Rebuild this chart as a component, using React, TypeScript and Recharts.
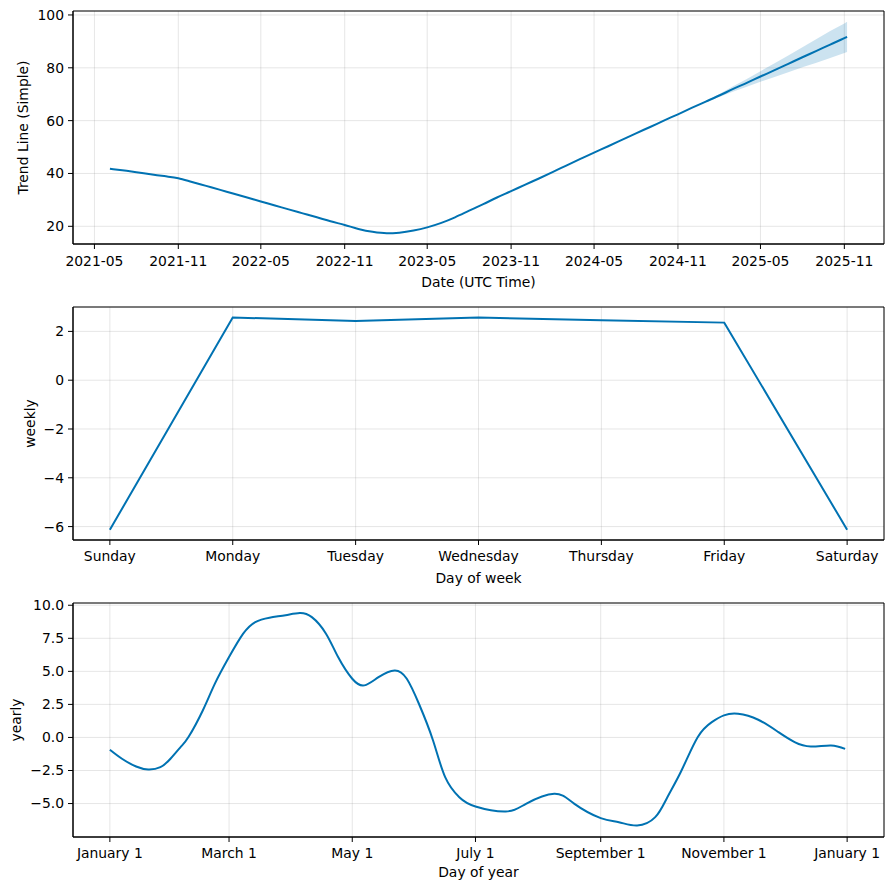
import React from "react";
import {
  ComposedChart,
  LineChart,
  Line,
  Area,
  XAxis,
  YAxis,
  CartesianGrid,
  ReferenceArea,
} from "recharts";

// trend component (monthly samples)
const trendDates = [
  "2021-06-04", "2021-07-01", "2021-08-01", "2021-09-01", "2021-10-01", "2021-11-01",
  "2021-12-01", "2022-01-01", "2022-02-01", "2022-03-01", "2022-04-01", "2022-05-01",
  "2022-06-01", "2022-07-01", "2022-08-01", "2022-09-01", "2022-10-01", "2022-11-01",
  "2022-12-01", "2023-01-01", "2023-02-01", "2023-03-01", "2023-04-01", "2023-05-01",
  "2023-06-01", "2023-07-01", "2023-08-01", "2023-09-01", "2023-10-01", "2023-11-01",
  "2023-12-01", "2024-01-01", "2024-02-01", "2024-03-01", "2024-04-01", "2024-05-01",
  "2024-06-01", "2024-07-01", "2024-08-01", "2024-09-01", "2024-10-01", "2024-11-01",
  "2024-12-01", "2025-01-01", "2025-02-01", "2025-03-01", "2025-04-01", "2025-05-01",
  "2025-06-01", "2025-07-01", "2025-08-01", "2025-09-01", "2025-10-01", "2025-11-01",
  "2025-11-07",
];
const trendValues = [
  41.8, 41.2, 40.5, 39.7, 39.0, 38.2,
  36.8, 35.3, 33.8, 32.4, 30.9, 29.4,
  27.9, 26.4, 24.9, 23.4, 21.9, 20.5,
  19.0, 17.9, 17.35, 17.6, 18.4, 19.6,
  21.3, 23.4, 25.9, 28.4, 30.9, 33.3,
  35.7, 38.1, 40.6, 43.0, 45.5, 47.9,
  50.3, 52.7, 55.2, 57.6, 60.0, 62.4,
  64.8, 67.2, 69.6, 71.9, 74.3, 76.7,
  79.1, 81.5, 84.0, 86.4, 88.8, 91.2,
  91.7,
];

// forecast uncertainty band
const bandDates = [
  "2024-12-01", "2025-01-01", "2025-02-01", "2025-03-01", "2025-04-01", "2025-05-01",
  "2025-06-01", "2025-07-01", "2025-08-01", "2025-09-01", "2025-10-01", "2025-11-01",
  "2025-11-07",
];
const bandUpper = [64.8, 67.4, 70.2, 72.9, 75.8, 78.7, 81.7, 84.7, 87.8, 90.9, 93.9, 96.8, 97.4];
const bandLower = [64.8, 67.0, 69.0, 70.9, 72.8, 74.7, 76.5, 78.3, 80.2, 81.9, 83.7, 85.6, 86.0];

const trendTicks = [
  "2021-05-01", "2021-11-01", "2022-05-01", "2022-11-01", "2023-05-01",
  "2023-11-01", "2024-05-01", "2024-11-01", "2025-05-01", "2025-11-01",
];

// weekly component
const weekDays = ["Sunday", "Monday", "Tuesday", "Wednesday", "Thursday", "Friday", "Saturday"];
const weeklyValues = [-6.13, 2.57, 2.43, 2.57, 2.46, 2.36, -6.13];

// yearly component (day of year -> value)
const yearDays = [
  0, 6, 13, 19, 25, 30, 35, 39, 46, 52, 59, 66, 72, 79, 87, 94, 100, 107, 113, 120, 126,
  133, 141, 147, 153, 160, 166, 173, 181, 196, 206, 220, 230, 243, 252, 261, 270, 276,
  283, 291, 298, 304, 311, 321, 331, 339, 347, 357, 364,
];
const yearlyValues = [
  -0.93, -1.61, -2.2, -2.42, -2.25, -1.61, -0.73, 0.05, 2.04, 4.07, 6.08, 7.85, 8.73,
  9.06, 9.25, 9.41, 9.1, 7.85, 6.08, 4.44, 3.94, 4.56, 5.07, 4.44, 2.55, -0.23, -3.0,
  -4.52, -5.22, -5.6, -5.02, -4.26, -5.02, -6.1, -6.41, -6.66, -6.03, -4.52, -2.5, 0.02,
  1.16, 1.67, 1.79, 1.34, 0.4, -0.35, -0.68, -0.6, -0.86,
];
const yearTickDays = [0, 59, 120, 181, 243, 304, 365];
const yearTickLabels = ["January 1", "March 1", "May 1", "July 1", "September 1", "November 1", "January 1"];

const BLUE = "#0072B2";
const FONT = "DejaVu Sans";
const FS = 13.9;

const toTs = (s: string) => Date.parse(s + "T00:00:00Z");
const fmtMinus = (v: number, digits: number) => {
  const s = Math.abs(v).toFixed(digits);
  return v < 0 ? "\u2212" + s : s;
};

const trendData = trendDates.map((d, i) => {
  const bi = bandDates.indexOf(d);
  return {
    ts: toTs(d),
    trend: trendValues[i],
    band: bi >= 0 ? [bandLower[bi], bandUpper[bi]] : undefined,
  };
});
const weeklyData = weekDays.map((d, i) => ({ idx: i, weekly: weeklyValues[i] }));
const yearlyData = yearDays.map((d, i) => ({ day: d, yearly: yearlyValues[i] }));

const tickStyle = { fill: "#000", fontSize: FS, fontFamily: FONT };
const axisLine = { stroke: "#000", strokeWidth: 1 };
const tickLine = { stroke: "#000", strokeWidth: 1 };
const gridProps = { stroke: "#808080", strokeOpacity: 0.2, strokeWidth: 1 };
const labelStyle = { fill: "#000", fontSize: FS, fontFamily: FONT };

const trendDomain = [toTs("2021-03-15"), toTs("2026-01-27")];
const trendY = [13.3, 101.5];
const weekDomain = [-0.3, 6.3];
const weekY = [-6.55, 3.0];
const yearDomain = [-18.25, 383.25];
const yearY = [-7.53, 10.17];

// black box round the plot area, like matplotlib spines
const frame = (xd: number[], yd: number[]) => (
  <ReferenceArea x1={xd[0]} x2={xd[1]} y1={yd[0]} y2={yd[1]} fill="none" stroke="#000" strokeWidth={1} ifOverflow="visible" />
);

export default function App() {
  return (
    <div style={{ position: "absolute", left: 0, top: 0, width: 894, height: 889, background: "#fff" }}>
      <div style={{ position: "absolute", left: 0, top: 0 }}>
        <ComposedChart width={894} height={297} data={trendData} margin={{ top: 11, right: 10, left: 0, bottom: 0 }}>
          <CartesianGrid {...gridProps} />
          <XAxis
            dataKey="ts"
            type="number"
            domain={trendDomain}
            ticks={trendTicks.map(toTs)}
            allowDataOverflow
            height={53}
            tickSize={5}
            tickMargin={7}
            axisLine={axisLine}
            tickLine={tickLine}
            tick={tickStyle}
            tickFormatter={(v: number) => new Date(v).toISOString().slice(0, 7)}
            label={{ value: "Date (UTC Time)", position: "insideBottom", offset: 10, style: labelStyle }}
          />
          <YAxis
            type="number"
            domain={trendY}
            ticks={[20, 40, 60, 80, 100]}
            allowDataOverflow
            width={73}
            tickSize={5}
            tickMargin={4}
            axisLine={axisLine}
            tickLine={tickLine}
            tick={tickStyle}
            label={{ value: "Trend Line (Simple)", angle: -90, position: "insideLeft", offset: 23, style: { ...labelStyle, textAnchor: "middle" } }}
          />
          <Area dataKey="band" type="linear" stroke="none" fill={BLUE} fillOpacity={0.2} isAnimationActive={false} />
          <Line dataKey="trend" type="monotone" stroke={BLUE} strokeWidth={2} dot={false} isAnimationActive={false} />
          {frame(trendDomain, trendY)}
        </ComposedChart>
      </div>

      <div style={{ position: "absolute", left: 0, top: 297 }}>
        <LineChart width={894} height={297} data={weeklyData} margin={{ top: 10, right: 10, left: 0, bottom: 0 }}>
          <CartesianGrid {...gridProps} />
          <XAxis
            dataKey="idx"
            type="number"
            domain={weekDomain}
            ticks={[0, 1, 2, 3, 4, 5, 6]}
            allowDataOverflow
            height={54}
            tickSize={5}
            tickMargin={6}
            axisLine={axisLine}
            tickLine={tickLine}
            tick={tickStyle}
            tickFormatter={(v: number) => weekDays[v]}
            label={{ value: "Day of week", position: "insideBottom", offset: 11, style: labelStyle }}
          />
          <YAxis
            type="number"
            domain={weekY}
            ticks={[-6, -4, -2, 0, 2]}
            allowDataOverflow
            width={73}
            tickSize={5}
            tickMargin={4}
            axisLine={axisLine}
            tickLine={tickLine}
            tick={tickStyle}
            tickFormatter={(v: number) => fmtMinus(v, 0)}
            label={{ value: "weekly", angle: -90, position: "insideLeft", offset: 30, style: { ...labelStyle, textAnchor: "middle" } }}
          />
          <Line dataKey="weekly" type="linear" stroke={BLUE} strokeWidth={2} dot={false} isAnimationActive={false} />
          {frame(weekDomain, weekY)}
        </LineChart>
      </div>

      <div style={{ position: "absolute", left: 0, top: 594 }}>
        <LineChart width={894} height={295} data={yearlyData} margin={{ top: 9, right: 10, left: 0, bottom: 0 }}>
          <CartesianGrid {...gridProps} />
          <XAxis
            dataKey="day"
            type="number"
            domain={yearDomain}
            ticks={yearTickDays}
            allowDataOverflow
            height={52}
            tickSize={5}
            tickMargin={6}
            axisLine={axisLine}
            tickLine={tickLine}
            tick={tickStyle}
            tickFormatter={(v: number) => yearTickLabels[yearTickDays.indexOf(v)]}
            interval={0}
            label={{ value: "Day of year", position: "insideBottom", offset: 12, style: labelStyle }}
          />
          <YAxis
            type="number"
            domain={yearY}
            ticks={[-5, -2.5, 0, 2.5, 5, 7.5, 10]}
            allowDataOverflow
            width={73}
            tickSize={5}
            tickMargin={4}
            axisLine={axisLine}
            tickLine={tickLine}
            tick={tickStyle}
            tickFormatter={(v: number) => fmtMinus(v, 1)}
            label={{ value: "yearly", angle: -90, position: "insideLeft", offset: 16, style: { ...labelStyle, textAnchor: "middle" } }}
          />
          <Line dataKey="yearly" type="natural" stroke={BLUE} strokeWidth={2} dot={false} isAnimationActive={false} />
          {frame(yearDomain, yearY)}
        </LineChart>
      </div>
    </div>
  );
}
